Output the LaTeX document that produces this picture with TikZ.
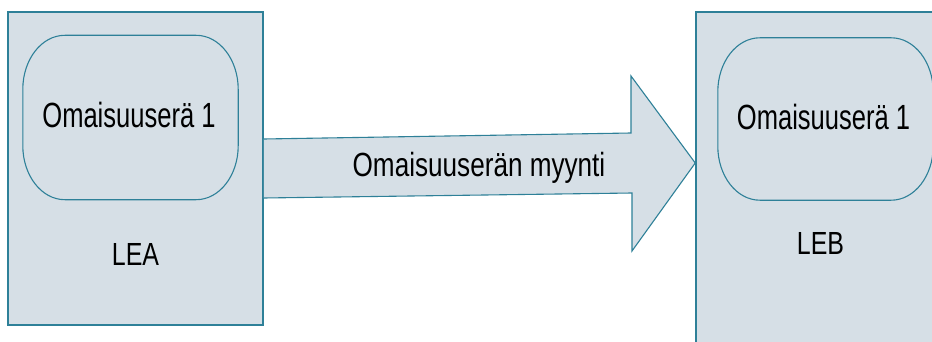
\documentclass[tikz,border=0pt]{standalone}
\usepackage{fontspec}
\usepackage{graphicx}
\setmainfont{Liberation Sans}
\definecolor{boxfill}{RGB}{214,223,230}
\definecolor{boxline}{RGB}{46,128,152}
\tikzset{
  outerbox/.style={draw=boxline, fill=boxfill, line width=1.5pt},
  innerbox/.style={inner sep=0pt, minimum width=215pt, minimum height=164pt},
  innerline/.style={draw=boxline, fill=boxfill, line width=1.1pt},
  cornr/.style={x radius=42pt, y radius=54pt},
  txt/.style={inner sep=0pt, anchor=base, text=black}
}
\newcommand{\bigtxt}[3]{\scalebox{#1}[1]{\fontsize{#2}{#2}\selectfont #3}}
\newcommand{\pillpath}[1]{%
  \path[innerline] ([xshift=42pt]#1.north west) -- ([xshift=-42pt]#1.north east)
    arc[start angle=90, end angle=0, cornr] -- ([yshift=54pt]#1.south east)
    arc[start angle=0, end angle=-90, cornr] -- ([xshift=42pt]#1.south west)
    arc[start angle=270, end angle=180, cornr] -- ([yshift=-54pt]#1.north west)
    arc[start angle=180, end angle=90, cornr] -- cycle;}
\begin{document}
\begin{tikzpicture}[x=1pt, y=-1pt]
\clip (0,0) rectangle (932,342);
\fill[white] (0,0) rectangle (932,342);
% outer boxes
\node[outerbox, inner sep=0pt, minimum width=255pt, minimum height=313pt] (lea) at (135.5,168.5) {};
\node[outerbox, inner sep=0pt, minimum width=255pt, minimum height=348pt] (leb) at (823.5,186) {};
% inner boxes
\node[innerbox] (a1) at (130.5,117.5) {};
\node[innerbox, minimum height=162pt] (b1) at (825.5,119) {};
\pillpath{a1}
\pillpath{b1}
% arrow
\coordinate (s1) at (lea.east |- 0,139);
\coordinate (s2) at (631,133);
\coordinate (h1) at (631,76);
\coordinate (tip) at (leb.west |- 0,163);
\coordinate (h2) at (632,251);
\coordinate (s3) at (632,193);
\coordinate (s4) at (lea.east |- 0,198);
\fill[boxfill] (s1) -- (s2) -- (h1) -- (tip) -- (h2) -- (s3) -- (s4) -- cycle;
\draw[boxline, line width=1.1pt, line join=miter] (s1) -- (s2) -- (h1) -- (tip) -- (h2) -- (s3) -- (s4);
% texts
\node[txt] (ta1) at (129,128) {\bigtxt{0.73}{35}{Omaisuuserä 1}};
\node[txt] (tb1) at (823.5,130) {\bigtxt{0.73}{35}{Omaisuuserä 1}};
\node[txt] (tlea) at (135.5,265) {\bigtxt{0.78}{32}{LEA}};
\node[txt] (tleb) at (820.5,254) {\bigtxt{0.78}{32}{LEB}};
\node[txt] (tarrow) at (479,177) {\bigtxt{0.78}{33.5}{Omaisuuserän myynti}};
\end{tikzpicture}
\end{document}
